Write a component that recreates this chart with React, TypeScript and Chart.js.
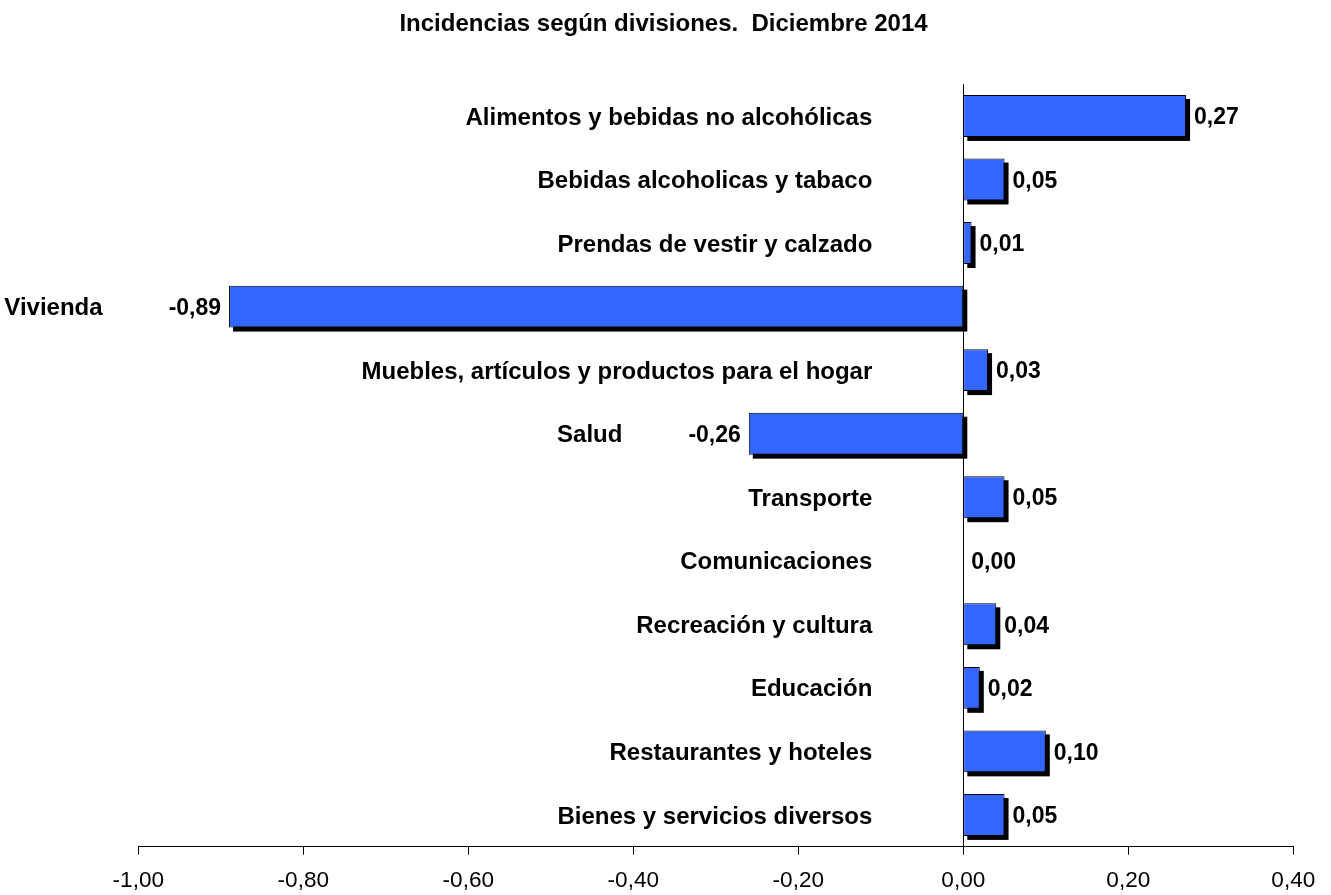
import React, { useEffect, useRef } from 'react';
import { Chart, registerables } from 'chart.js';

Chart.register(...registerables);

const TITLE = 'Incidencias según divisiones.  Diciembre 2014';

const categories = [
  'Alimentos y bebidas no alcohólicas',
  'Bebidas alcoholicas y tabaco',
  'Prendas de vestir y calzado',
  'Vivienda',
  'Muebles, artículos y productos para el hogar',
  'Salud',
  'Transporte',
  'Comunicaciones',
  'Recreación y cultura',
  'Educación',
  'Restaurantes y hoteles',
  'Bienes y servicios diversos',
];

const values = [0.27, 0.05, 0.01, -0.89, 0.03, -0.26, 0.05, 0.0, 0.04, 0.02, 0.1, 0.05];

const xMin = -1;
const xMax = 0.4;
const xStep = 0.2;

const FONT = '"Liberation Sans", Arial, sans-serif';
const BAR_COLOR = '#3366FF';
const CAP = 0.358; // half cap-height ratio for vertical centring

const fmt = (v: number) => {
  const r = Math.round(v * 100) / 100;
  return (Math.abs(r) < 1e-9 ? 0 : r).toFixed(2).replace('.', ',');
};

const decorPlugin = {
  id: 'decor',
  beforeDatasetsDraw(chart: any) {
    const meta = chart.getDatasetMeta(0);
    const ctx = chart.ctx;
    ctx.save();
    ctx.fillStyle = '#000';
    meta.data.forEach((el: any) => {
      const { x, y, base, height } = el.getProps(['x', 'y', 'base', 'height'], true);
      const l = Math.min(x, base);
      const r = Math.max(x, base);
      if (r - l < 0.5) return;
      ctx.fillRect(l + 4, y - height / 2 + 4, r - l, height);
    });
    ctx.restore();
  },
  afterDatasetsDraw(chart: any) {
    const meta = chart.getDatasetMeta(0);
    const ctx = chart.ctx;
    const xScale = chart.scales.x;
    const zeroPx = xScale.getPixelForValue(0);
    ctx.save();
    ctx.fillStyle = '#000';
    ctx.textBaseline = 'alphabetic';
    meta.data.forEach((el: any, i: number) => {
      const { x, y } = el.getProps(['x', 'y'], true);
      const v = values[i];
      const vText = fmt(v);
      ctx.font = `bold 23px ${FONT}`;
      const vy = y + 23 * CAP;
      let catRight: number;
      if (v >= 0) {
        ctx.textAlign = 'left';
        ctx.fillText(vText, x + 8, vy);
        catRight = zeroPx - 91;
      } else {
        ctx.textAlign = 'right';
        ctx.fillText(vText, x - 8, vy);
        const w = ctx.measureText(vText).width;
        catRight = x - 8 - w - 66;
      }
      ctx.font = `bold 24px ${FONT}`;
      ctx.textAlign = 'right';
      ctx.fillText(categories[i], catRight, y + 24 * CAP);
    });
    ctx.restore();
  },
  afterDraw(chart: any) {
    const ctx = chart.ctx;
    ctx.save();
    ctx.fillStyle = '#000';
    ctx.font = `bold 24px ${FONT}`;
    ctx.textAlign = 'center';
    ctx.textBaseline = 'alphabetic';
    ctx.fillText(TITLE, chart.width / 2 - 2, 22 + 24 * CAP);
    ctx.restore();
  },
};

export default function App() {
  const ref = useRef<HTMLCanvasElement | null>(null);

  useEffect(() => {
    if (!ref.current) return;
    const chart = new Chart(ref.current, {
      type: 'bar',
      data: {
        labels: categories,
        datasets: [
          {
            data: values,
            backgroundColor: BAR_COLOR,
            borderColor: '#000',
            borderWidth: 1,
            borderSkipped: false,
            barPercentage: 0.66,
            categoryPercentage: 1,
          },
        ],
      },
      options: {
        indexAxis: 'y',
        animation: false,
        responsive: false,
        maintainAspectRatio: false,
        layout: { padding: { top: 84.2, left: 138.3, right: 37.7, bottom: 0 } },
        plugins: {
          legend: { display: false },
          title: { display: false },
          tooltip: { enabled: false },
        },
        scales: {
          x: {
            type: 'linear',
            min: xMin,
            max: xMax,
            afterFit: (scale: any) => {
              scale.height = 48.3;
            },
            ticks: {
              stepSize: xStep,
              color: '#000',
              font: { family: FONT, size: 22.6 },
              padding: 13,
              maxRotation: 0,
              autoSkip: false,
              callback: (v: any) => fmt(Number(v)),
            },
            grid: {
              drawOnChartArea: true,
              drawTicks: true,
              tickLength: 8,
              color: (c: any) => (c.tick && Math.abs(c.tick.value) < 1e-9 ? '#000' : 'rgba(0,0,0,0)'),
              tickColor: '#000',
              lineWidth: 1,
            },
            border: { display: true, color: '#000', width: 1 },
          },
          y: {
            type: 'category',
            display: false,
          },
        },
      },
      plugins: [decorPlugin],
    });
    return () => chart.destroy();
  }, []);

  return (
    <div style={{ position: 'fixed', left: 0, top: 0, width: 1331, height: 895, background: '#fff' }}>
      <canvas ref={ref} width={1331} height={895} style={{ display: 'block' }} />
    </div>
  );
}
